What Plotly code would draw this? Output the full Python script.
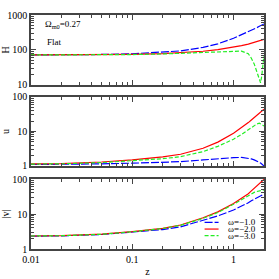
import plotly.graph_objects as go
from plotly.subplots import make_subplots

z = [0.01, 0.02, 0.05, 0.1, 0.2, 0.3, 0.5, 0.7, 1.0, 1.2, 1.4, 1.5, 1.6, 1.7, 1.8, 1.85, 1.9, 1.95, 2.0]

# H(z)
H_w1 = [72, 72.5, 74.5, 78, 86, 94, 119, 150, 216, 270, 330, 360, 395, 435, 475, 500, 520, 540, 555]
H_w2 = [72, 72.2, 73.5, 75, 79, 83, 92, 102, 119, 133, 147, 155, 163, 172, 181, 186, 192, 197, 202]
H_w3 = [72, 72.2, 73, 74, 77, 80, 86, 91, 94, 93, 78, 58, 40, 25, 14, 11.5, 18, 40, 72]

# u(z)
u_w1 = [1.1, 1.11, 1.15, 1.2, 1.27, 1.33, 1.49, 1.62, 1.74, 1.76, 1.68, 1.6, 1.5, 1.4, 1.28, 1.21, 1.14, 1.07, 1.0]
u_w2 = [1.14, 1.17, 1.3, 1.49, 1.82, 2.18, 3.26, 4.9, 8.9, 12.8, 18, 21.5, 25, 29, 33.5, 36, 38.5, 41, 44]
u_w3 = [1.13, 1.15, 1.25, 1.4, 1.62, 1.86, 2.6, 3.7, 5.95, 8.2, 11.2, 12.9, 14.8, 16.5, 17.3, 16.8, 15.8, 15, 14.4]

# |v|(z)
v_w1 = [2.33, 2.38, 2.6, 3.0, 3.6, 4.3, 6.5, 8.8, 13, 16.5, 21, 24, 26.5, 29, 32, 33.5, 35, 36, 37]
v_w2 = [2.35, 2.4, 2.65, 3.12, 3.9, 4.85, 7.8, 11.5, 20, 28, 38, 46, 54, 63, 73, 79, 85, 91, 98]
v_w3 = [2.35, 2.4, 2.63, 3.1, 3.85, 4.75, 7.5, 11, 19, 26, 34, 38, 41.5, 44, 46, 47, 47.8, 48.3, 49]

names = ["ω=−1.0", "ω=−2.0", "ω=−3.0"]
colors = ["#0000ff", "#ff0000", "#22ee22"]
dashes = ["8px,2px", "solid", "4px,2px"]

FONT = "Liberation Serif"
AX = "#444444"

fig = make_subplots(rows=3, cols=1, shared_xaxes=True, vertical_spacing=0.05)

panels = [(H_w1, H_w2, H_w3), (u_w1, u_w2, u_w3), (v_w1, v_w2, v_w3)]
for r, series in enumerate(panels, start=1):
    for i, ys in enumerate(series):
        fig.add_trace(go.Scatter(x=z, y=ys, mode="lines", name=names[i],
                                 line=dict(color=colors[i], width=1.2, dash=dashes[i]),
                                 showlegend=False), row=r, col=1)

common = dict(type="log", showline=True, linecolor=AX, linewidth=1.5, mirror="allticks",
              ticks="inside", ticklen=5, tickwidth=1, tickcolor=AX, showgrid=False,
              zeroline=False, dtick=1, exponentformat="none", automargin=False,
              minor=dict(ticks="inside", ticklen=3, tickcolor=AX, dtick="D1", showgrid=False),
              tickfont=dict(family=FONT, size=10, color="black"))

for r in range(1, 4):
    fig.update_xaxes(range=[-2, 0.301], showticklabels=(r == 3), row=r, col=1, **common)

fig.update_yaxes(range=[1, 3], row=1, col=1, **common)
fig.update_yaxes(range=[0, 2], row=2, col=1, **common)
fig.update_yaxes(range=[0, 2], row=3, col=1, **common)

fig.update_layout(
    width=279, height=279,
    margin=dict(l=31, r=15, t=15, b=30),
    paper_bgcolor="white", plot_bgcolor="white",
    font=dict(family=FONT, size=10, color="black"),
    showlegend=False,
    yaxis=dict(domain=[0.701, 1.0], title=dict(text="H", standoff=2, font=dict(size=10))),
    yaxis2=dict(domain=[0.355, 0.650], title=dict(text="u", standoff=2, font=dict(size=10))),
    yaxis3=dict(domain=[0.0, 0.299], title=dict(text="|v|", standoff=2, font=dict(size=10))),
    xaxis3=dict(title=dict(text="z", standoff=4, font=dict(size=10))),
)

# legend drawn inside the bottom panel
leg_y = [0.38, 0.285, 0.19]
for i in range(3):
    fig.add_shape(type="line", xref="x3 domain", yref="y3 domain",
                  x0=0.745, x1=0.805, y0=leg_y[i], y1=leg_y[i],
                  line=dict(color=colors[i], width=1.2, dash=dashes[i]))
    fig.add_annotation(text=names[i], xref="x3 domain", yref="y3 domain",
                       x=0.835, y=leg_y[i], xanchor="left", yanchor="middle",
                       showarrow=False, font=dict(family=FONT, size=9))

fig.add_annotation(text="Ω<sub>m0</sub>=0.27", xref="x domain", yref="y domain",
                   x=0.05, y=0.86, xanchor="left", yanchor="middle", showarrow=False,
                   font=dict(family=FONT, size=9))
fig.add_annotation(text="Flat", xref="x domain", yref="y domain",
                   x=0.06, y=0.61, xanchor="left", yanchor="middle", showarrow=False,
                   font=dict(family=FONT, size=9))

fig.write_html("out.html", config={"displayModeBar": False},
               post_script="document.body.style.margin='0';")
